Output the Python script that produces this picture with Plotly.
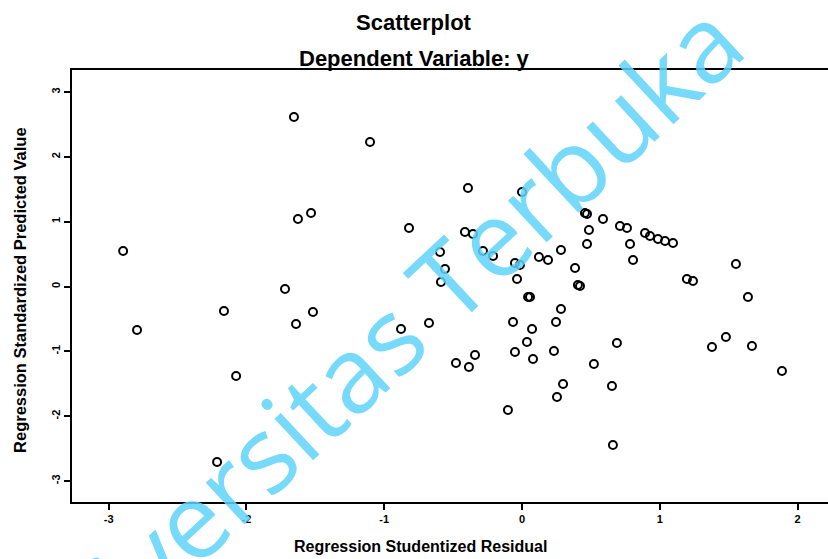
import plotly.graph_objects as go

# Regression Studentized Residual (x) and Regression Standardized Predicted Value (y)
resid = [-2.895, -2.794, -2.213, -2.163, -2.075, -1.720, -1.655, -1.640, -1.626, -1.531,
         -1.517, -1.103, -0.878, -0.820, -0.675, -0.595, -0.588, -0.559, -0.479, -0.385,
         -0.341, -0.414, -0.356, -0.392, -0.283, -0.210, -0.102, -0.065, -0.051, -0.015,
         -0.051, -0.036, 0.000, 0.036, 0.044, 0.058, 0.073, 0.080, 0.123, 0.189,
         0.232, 0.247, 0.254, 0.283, 0.283, 0.298, 0.385, 0.406, 0.421, 0.457,
         0.472, 0.472, 0.486, 0.522, 0.588, 0.653, 0.660, 0.689, 0.711, 0.762,
         0.784, 0.806, 0.893, 0.929, 0.987, 1.038, 1.096, 1.197, 1.241, 1.379,
         1.480, 1.553, 1.640, 1.669, 1.887]
pred = [0.548, -0.671, -2.707, -0.378, -1.381, -0.039, 2.615, -0.578, 1.041, 1.134,
        -0.393, 2.229, -0.656, 0.902, -0.563, 0.532, 0.069, 0.270, -1.180, -1.242,
        -1.057, 0.841, 0.810, 1.519, 0.548, 0.470, -1.905, -0.548, 0.362, 0.332,
        -1.010, 0.116, 1.458, -0.856, -0.162, -0.162, -0.656, -1.118, 0.455, 0.409,
        -0.995, -0.548, -1.704, 0.563, -0.347, -1.504, 0.285, 0.023, 0.008, 1.134,
        1.118, 0.656, 0.872, -1.195, 1.041, -1.535, -2.445, -0.872, 0.933, 0.902,
        0.656, 0.409, 0.825, 0.779, 0.733, 0.702, 0.671, 0.116, 0.085, -0.933,
        -0.779, 0.347, -0.162, -0.918, -1.303]

x_ticks = [-3, -2, -1, 0, 1, 2]
y_ticks = [-3, -2, -1, 0, 1, 2, 3]

FONT = "Liberation Sans"

fig = go.Figure()
fig.add_trace(go.Scatter(
    x=resid, y=pred, mode="markers",
    marker=dict(symbol="circle-open", size=8, color="black", line=dict(width=2, color="black")),
    showlegend=False, hoverinfo="skip"))

fig.update_layout(
    width=828, height=559,
    margin=dict(l=72, r=0, t=70, b=57),
    paper_bgcolor="white", plot_bgcolor="white",
    font=dict(family=FONT, color="black"),
    xaxis=dict(range=[-3.266, 2.221], tickvals=x_ticks, ticktext=[f"<b>{v}</b>" for v in x_ticks],
               showgrid=False, zeroline=False, showline=True, linecolor="black", linewidth=2,
               mirror=True, ticks="outside", ticklen=6, tickwidth=2, tickcolor="black",
               tickfont=dict(size=11, family=FONT)),
    yaxis=dict(range=[-3.324, 3.340], tickvals=y_ticks, ticktext=[f"<b>{v}</b>" for v in y_ticks],
               showgrid=False, zeroline=False, showline=True, linecolor="black", linewidth=2,
               mirror=False, ticks="outside", ticklen=6, tickwidth=2, tickcolor="black",
               tickangle=-90, tickfont=dict(size=11, family=FONT)),
)

ann = [
    dict(text="<b>Scatterplot</b>", x=0.4524, y=1.109, font=dict(size=22)),
    dict(text="<b>Dependent Variable: y</b>", x=0.4524, y=1.027, font=dict(size=22)),
    dict(text="<b>Regression Studentized Residual</b>", x=0.461, y=-0.102, font=dict(size=16)),
    dict(text="<b>Regression Standardized Predicted Value</b>", x=-0.068, y=0.49,
         textangle=-90, font=dict(size=16.5)),
]
for a in ann:
    fig.add_annotation(xref="paper", yref="paper", showarrow=False,
                       xanchor="center", yanchor="middle", **a)

# watermark overlay (as in the reference image), carried by an invisible guide line
fig.add_shape(type="line", xref="paper", yref="paper",
              x0=0.2963, y0=0.1620, x1=0.4868, y1=0.4838,
              line=dict(width=0, color="rgba(0,0,0,0)"), layer="above",
              label=dict(text="Universitas Terbuka", textposition="middle", textangle=-43,
                         xanchor="center", yanchor="middle", padding=0,
                         font=dict(size=106, family="Open Sans", weight=500,
                                   color="rgba(95,212,250,0.85)")))

fig.write_html("out.html")
